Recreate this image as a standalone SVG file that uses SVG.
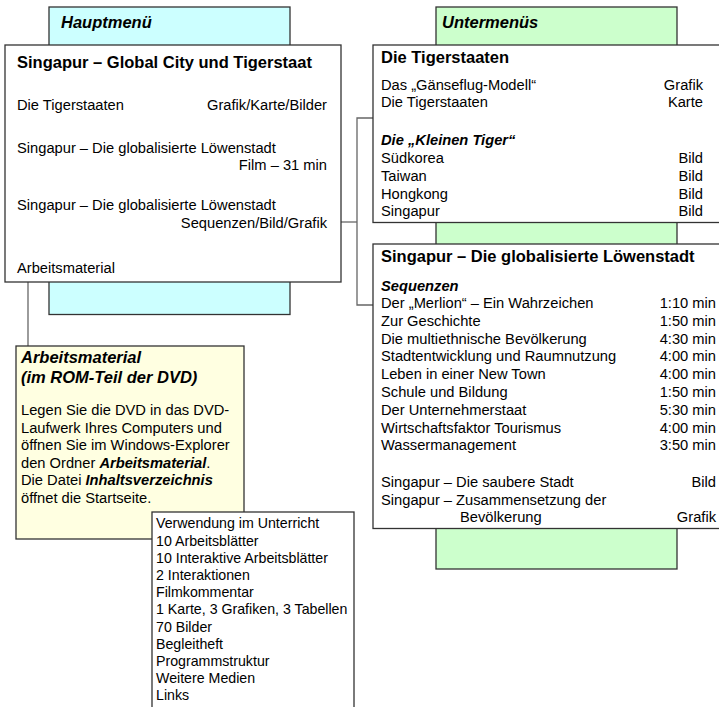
<svg xmlns="http://www.w3.org/2000/svg" width="719" height="707" viewBox="0 0 719 707">
<style>
  text { font-family: "Liberation Sans", Arial, sans-serif; font-size: 14.7px; fill: #000; }
  .h { font-weight: bold; font-size: 16.5px; }
  .hi { font-weight: bold; font-style: italic; font-size: 16.5px; }
  .bi { font-weight: bold; font-style: italic; }
  .r { text-anchor: end; }
  .sm { font-size: 14.2px; }
  .box { fill: #fff; stroke: #333; stroke-width: 1.3; }
  .cyan { fill: #ccffff; stroke: #333; stroke-width: 1.3; }
  .green { fill: #ccffcc; stroke: #333; stroke-width: 1.3; }
  .yellow { fill: #ffffe1; stroke: #333; stroke-width: 1.3; }
  .conn { fill: none; stroke: #666; stroke-width: 1.3; }
</style>

<g id="hauptmenu-tab">
  <rect class="cyan" x="49" y="7" width="241" height="307.5"/>
  <text class="hi" x="61" y="28">Hauptmenü</text>
</g>

<g id="untermenus-tab">
  <rect class="green" x="436" y="7" width="241" height="562"/>
  <text class="hi" x="442" y="28">Untermenüs</text>
</g>

<g id="connectors">
  <polyline class="conn" points="28,282 28,346"/>
  <polyline class="conn" points="341,222 357,222"/>
  <polyline class="conn" points="373,118 357,118 357,305 373,305"/>
</g>

<g id="main-box">
  <rect class="box" x="5" y="45" width="336" height="237"/>
  <text class="h" x="17" y="68">Singapur – Global City und Tigerstaat</text>
  <text x="17" y="110">Die Tigerstaaten</text>
  <text class="r" x="327" y="110">Grafik/Karte/Bilder</text>
  <text x="17" y="153">Singapur – Die globalisierte Löwenstadt</text>
  <text class="r" x="327" y="170">Film – 31 min</text>
  <text x="17" y="210">Singapur – Die globalisierte Löwenstadt</text>
  <text class="r" x="327" y="228">Sequenzen/Bild/Grafik</text>
  <text x="17" y="273">Arbeitsmaterial</text>
</g>

<g id="tigerstaaten-box">
  <rect class="box" x="373" y="45" width="360" height="177.5"/>
  <text class="h" x="381" y="63">Die Tigerstaaten</text>
  <text x="381" y="89.5">Das „Gänseflug-Modell“</text>
  <text class="r" x="703" y="89.5">Grafik</text>
  <text x="381" y="107">Die Tigerstaaten</text>
  <text class="r" x="703" y="107">Karte</text>
  <text class="bi" x="381" y="145">Die „Kleinen Tiger“</text>
  <text x="381" y="163">Südkorea</text>
  <text class="r" x="703" y="163">Bild</text>
  <text x="381" y="180.8">Taiwan</text>
  <text class="r" x="703" y="180.8">Bild</text>
  <text x="381" y="198.5">Hongkong</text>
  <text class="r" x="703" y="198.5">Bild</text>
  <text x="381" y="216">Singapur</text>
  <text class="r" x="703" y="216">Bild</text>
</g>

<g id="loewenstadt-box">
  <rect class="box" x="373" y="244" width="360" height="284.5"/>
  <text class="h" x="381" y="262">Singapur – Die globalisierte Löwenstadt</text>
  <text class="bi" x="381" y="291">Sequenzen</text>
  <text x="381" y="308">Der „Merlion“ – Ein Wahrzeichen</text>
  <text class="r" x="716" y="308">1:10 min</text>
  <text x="381" y="325.8">Zur Geschichte</text>
  <text class="r" x="716" y="325.8">1:50 min</text>
  <text x="381" y="343.6">Die multiethnische Bevölkerung</text>
  <text class="r" x="716" y="343.6">4:30 min</text>
  <text x="381" y="361.4">Stadtentwicklung und Raumnutzung</text>
  <text class="r" x="716" y="361.4">4:00 min</text>
  <text x="381" y="379.2">Leben in einer New Town</text>
  <text class="r" x="716" y="379.2">4:00 min</text>
  <text x="381" y="397">Schule und Bildung</text>
  <text class="r" x="716" y="397">1:50 min</text>
  <text x="381" y="414.8">Der Unternehmerstaat</text>
  <text class="r" x="716" y="414.8">5:30 min</text>
  <text x="381" y="432.6">Wirtschaftsfaktor Tourismus</text>
  <text class="r" x="716" y="432.6">4:00 min</text>
  <text x="381" y="450.4">Wassermanagement</text>
  <text class="r" x="716" y="450.4">3:50 min</text>
  <text x="381" y="487">Singapur – Die saubere Stadt</text>
  <text class="r" x="716" y="487">Bild</text>
  <text x="381" y="505">Singapur – Zusammensetzung der</text>
  <text x="460" y="522">Bevölkerung</text>
  <text class="r" x="716" y="522">Grafik</text>
</g>

<g id="arbeitsmaterial-box">
  <rect class="yellow" x="16" y="346" width="228" height="193"/>
  <text class="hi" x="21" y="363">Arbeitsmaterial</text>
  <text class="hi" x="21" y="383">(im ROM-Teil der DVD)</text>
  <text x="21" y="415">Legen Sie die DVD in das DVD-</text>
  <text x="21" y="432.5">Laufwerk Ihres Computers und</text>
  <text x="21" y="450">öffnen Sie im Windows-Explorer</text>
  <text x="21" y="467.5">den Ordner <tspan class="bi">Arbeitsmaterial</tspan>.</text>
  <text x="21" y="485">Die Datei <tspan class="bi">Inhaltsverzeichnis</tspan></text>
  <text x="21" y="502.5">öffnet die Startseite.</text>
</g>

<g id="inhalt-box">
  <rect class="box" x="152" y="512" width="202" height="210"/>
  <text class="sm" x="156" y="528.3">Verwendung im Unterricht</text>
  <text class="sm" x="156" y="545.5">10 Arbeitsblätter</text>
  <text class="sm" x="156" y="562.7">10 Interaktive Arbeitsblätter</text>
  <text class="sm" x="156" y="579.9">2 Interaktionen</text>
  <text class="sm" x="156" y="597.1">Filmkommentar</text>
  <text class="sm" x="156" y="614.3">1 Karte, 3 Grafiken, 3 Tabellen</text>
  <text class="sm" x="156" y="631.5">70 Bilder</text>
  <text class="sm" x="156" y="648.7">Begleitheft</text>
  <text class="sm" x="156" y="665.9">Programmstruktur</text>
  <text class="sm" x="156" y="683.1">Weitere Medien</text>
  <text class="sm" x="156" y="700.3">Links</text>
</g>
</svg>
